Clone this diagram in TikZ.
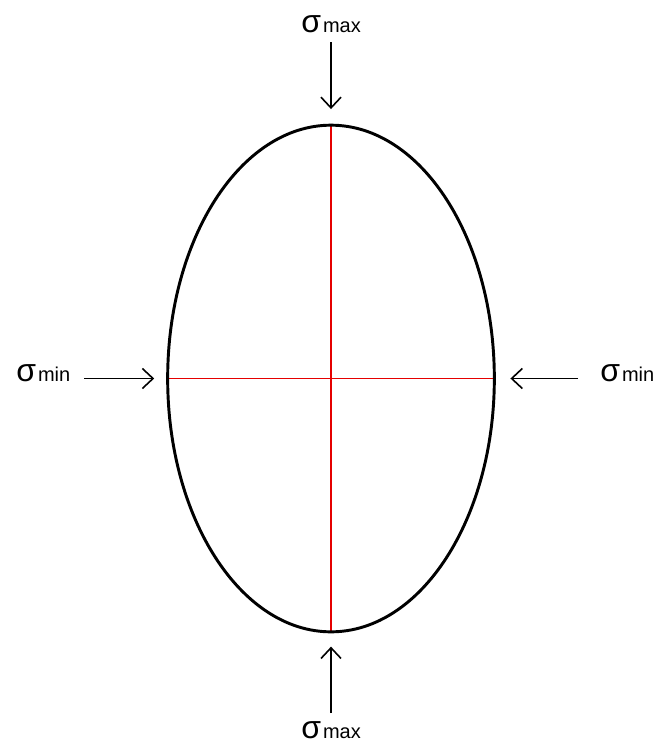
\documentclass[tikz,border=0pt]{standalone}
\usepackage{fontspec}
\setmainfont{Liberation Sans}
\usetikzlibrary{arrows.meta,backgrounds,positioning,shapes.geometric}

\newcommand{\sig}[1]{{\fontsize{24}{24}\selectfont σ}\hspace{1.5pt}{\fontsize{15}{15}\selectfont #1}}

\begin{document}
\begin{tikzpicture}[
  x=0.75pt, y=-0.75pt,
  lbl/.style={inner sep=0pt, anchor=base west},
  arr/.style={-{Straight Barb[length=8pt,width=15pt]}, line width=1.2pt, black},
  axis/.style={red!90!black, line width=1.1pt},
]
\useasboundingbox (0,0) rectangle (667,743);

\node[ellipse, draw, line width=2.2pt, inner sep=0pt, minimum width=245pt,
      minimum height=380pt] (ell) at (331,378.5) {};

\node[lbl] (smaxtop) at (301,32) {\sig{max}};
\node[lbl] (smaxbot) at (301,738) {\sig{max}};
\node[lbl] (sminl) at (16,381) {\sig{min}};
\node[lbl] (sminr) at (600,381) {\sig{min}};

\coordinate (ttail) at (331,42);
\coordinate (btail) at (331,713);
\coordinate (ltail) at (84,378.5);
\coordinate (rtail) at (578,378.5);

\begin{scope}[on background layer]
\draw[axis] (ell.north) -- (ell.south);
\draw[axis] (ell.west) -- (ell.east);
\end{scope}

\draw[arr, shorten >=11pt] (ttail) -- (ell.north);
\draw[arr, shorten >=10pt] (btail) -- (ell.south);
\draw[arr, shorten >=9pt] (ltail) -- (ell.west);
\draw[arr, shorten >=11pt] (rtail) -- (ell.east);

\end{tikzpicture}
\end{document}
